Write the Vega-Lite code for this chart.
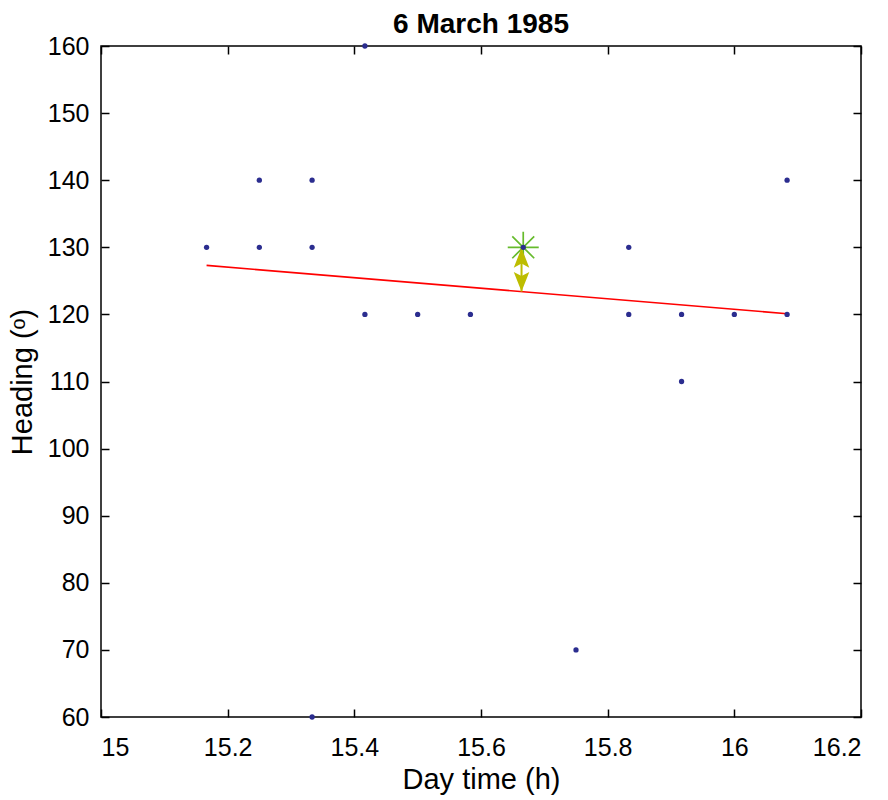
{
  "$schema": "https://vega.github.io/schema/vega-lite/v6.json",
  "autosize": "none",
  "width": 760,
  "height": 671,
  "padding": {"left": 101, "top": 46, "right": 27, "bottom": 83},
  "background": "white",
  "config": {
    "view": {"stroke": "black", "strokeWidth": 1.5},
    "font": "Liberation Sans",
    "axis": {"grid": false, "domain": false, "tickColor": "black", "tickWidth": 1.5, "labelColor": "black", "titleColor": "black", "labelFont": "Liberation Sans", "titleFont": "Liberation Sans", "titleFontWeight": "normal"}
  },
  "title": {"text": "6 March 1985", "fontSize": 28, "fontWeight": "bold", "font": "Liberation Sans", "color": "black", "offset": -5},
  "datasets": {
    "obs": [
      {"t": 15.1667, "h": 130},
      {"t": 15.25, "h": 140},
      {"t": 15.25, "h": 130},
      {"t": 15.3333, "h": 140},
      {"t": 15.3333, "h": 130},
      {"t": 15.3333, "h": 60},
      {"t": 15.4167, "h": 160},
      {"t": 15.4167, "h": 120},
      {"t": 15.5, "h": 120},
      {"t": 15.5833, "h": 120},
      {"t": 15.6667, "h": 130},
      {"t": 15.75, "h": 70},
      {"t": 15.8333, "h": 130},
      {"t": 15.8333, "h": 120},
      {"t": 15.9167, "h": 120},
      {"t": 15.9167, "h": 110},
      {"t": 16.0, "h": 120},
      {"t": 16.0833, "h": 140},
      {"t": 16.0833, "h": 120}
    ],
    "fit": [
      {"t": 15.1667, "h": 127.3},
      {"t": 16.0833, "h": 120.1}
    ],
    "star": [{"t": 15.6667, "h": 130}],
    "arrow": [{"t": 15.664, "h1": 129.9, "h2": 123.4}],
    "heads": [
      {"t": 15.664, "h": 129.9, "dir": "up"},
      {"t": 15.664, "h": 123.4, "dir": "down"}
    ]
  },
  "resolve": {"axis": {"x": "independent", "y": "independent"}},
  "layer": [
    {
      "data": {"name": "fit"},
      "mark": {"type": "line", "color": "#ff0000", "strokeWidth": 1.6, "clip": true},
      "encoding": {
        "x": {"field": "t", "type": "quantitative", "scale": {"domain": [15, 16.2], "nice": false, "zero": false},
              "axis": {"orient": "top", "labels": false, "title": null, "tickSize": -8, "values": [15, 15.2, 15.4, 15.6, 15.8, 16, 16.2]}},
        "y": {"field": "h", "type": "quantitative", "scale": {"domain": [60, 160], "nice": false, "zero": false},
              "axis": {"orient": "right", "labels": false, "title": null, "tickSize": -8, "values": [60, 70, 80, 90, 100, 110, 120, 130, 140, 150, 160]}}
      }
    },
    {
      "data": {"name": "star"},
      "mark": {"type": "point", "shape": "M-1,0L1,0M0,-1L0,1M-0.707,-0.707L0.707,0.707M-0.707,0.707L0.707,-0.707", "filled": false, "stroke": "#66bb2c", "strokeWidth": 1.7, "size": 961, "opacity": 1},
      "encoding": {
        "x": {"field": "t", "type": "quantitative", "axis": null},
        "y": {"field": "h", "type": "quantitative", "axis": null}
      }
    },
    {
      "data": {"name": "arrow"},
      "mark": {"type": "rule", "color": "#bdbd00", "strokeWidth": 2},
      "encoding": {
        "x": {"field": "t", "type": "quantitative", "axis": null},
        "y": {"field": "h1", "type": "quantitative", "axis": null},
        "y2": {"field": "h2"}
      }
    },
    {
      "data": {"name": "heads"},
      "mark": {"type": "point", "filled": true, "opacity": 1, "size": 430, "strokeWidth": 0},
      "encoding": {
        "x": {"field": "t", "type": "quantitative", "axis": null},
        "y": {"field": "h", "type": "quantitative", "axis": null},
        "color": {"value": "#bdbd00"},
        "shape": {"field": "dir", "type": "nominal", "legend": null,
                  "scale": {"domain": ["up", "down"], "range": ["M0,0L-0.75,1.9L0,1.5L0.75,1.9Z", "M0,0L-0.75,-1.9L0,-1.5L0.75,-1.9Z"]}}
      }
    },
    {
      "data": {"name": "obs"},
      "mark": {"type": "point", "filled": true, "color": "#2b2d8f", "size": 28, "opacity": 1, "clip": false},
      "encoding": {
        "x": {"field": "t", "type": "quantitative",
              "axis": {"orient": "bottom", "title": "Day time (h)", "titleFontSize": 29, "labelFontSize": 25, "tickSize": -8, "labelPadding": 26, "titlePadding": 5, "format": "~g", "values": [15, 15.2, 15.4, 15.6, 15.8, 16, 16.2]}},
        "y": {"field": "h", "type": "quantitative",
              "axis": {"orient": "left", "title": "Heading (ᵒ)", "titleFontSize": 29, "labelFontSize": 25, "tickSize": -8, "labelPadding": 20, "titlePadding": 10, "values": [60, 70, 80, 90, 100, 110, 120, 130, 140, 150, 160]}}
      }
    }
  ]
}
